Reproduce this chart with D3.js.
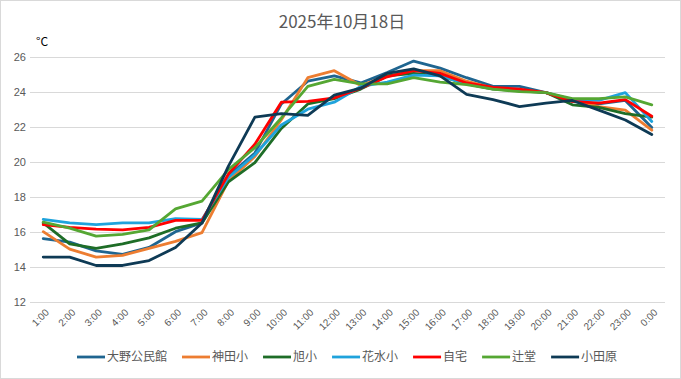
<!DOCTYPE html>
<html><head><meta charset="utf-8">
<script src="https://cdn.jsdelivr.net/npm/d3@7"></script>
<style>body{margin:0;background:#fff}svg{display:block}</style>
</head><body>
<script>
const hours = ["1:00","2:00","3:00","4:00","5:00","6:00","7:00","8:00","9:00","10:00","11:00","12:00","13:00","14:00","15:00","16:00","17:00","18:00","19:00","20:00","21:00","22:00","23:00","0:00"];
const yTicks = [12,14,16,18,20,22,24,26];
const seriesNames = ["大野公民館","神田小","旭小","花水小","自宅","辻堂","小田原"];
const seriesColors = ["#1f6590","#ed7d31","#1e6d27","#1fa3dc","#ff0000","#55a733","#0e3a55"];
const ono     = [15.6,15.4,14.9,14.7,15.1,16.0,16.5,19.2,20.5,23.3,24.6,24.9,24.5,25.1,25.75,25.35,24.8,24.3,24.3,23.95,23.45,23.3,23.5,21.95];
const kanda   = [16.0,15.0,14.55,14.65,15.05,15.45,15.95,18.9,20.3,22.4,24.8,25.2,24.35,24.9,25.2,25.2,24.6,24.2,24.1,23.95,23.5,23.15,22.95,21.8];
const asahi   = [16.5,15.3,15.05,15.3,15.65,16.2,16.5,18.85,19.95,21.9,23.3,23.6,24.15,24.9,25.05,24.9,24.45,24.15,24.05,23.95,23.25,23.1,22.75,22.55];
const hanamizu= [16.7,16.5,16.4,16.5,16.5,16.75,16.7,19.1,20.4,22.1,23.0,23.4,24.3,24.55,24.95,24.9,24.45,24.2,24.1,23.95,23.55,23.5,23.95,22.3];
const jitaku  = [16.4,16.25,16.15,16.1,16.25,16.65,16.65,19.3,21.0,23.4,23.45,23.65,24.2,24.85,25.2,25.05,24.5,24.25,24.15,23.95,23.45,23.35,23.55,22.6];
const tsujido = [16.55,16.2,15.75,15.85,16.1,17.3,17.75,19.55,20.8,22.5,24.3,24.7,24.45,24.45,24.8,24.55,24.4,24.15,24.0,23.95,23.6,23.6,23.7,23.25];
const odawara = [14.55,14.55,14.07,14.07,14.35,15.1,16.5,19.75,22.55,22.75,22.65,23.8,24.2,25.05,25.3,24.9,23.85,23.55,23.15,23.35,23.5,22.95,22.38,21.55];
const seriesValues = [ono,kanda,asahi,hanamizu,jitaku,tsujido,odawara];

(function(){
const W = 681, H = 379;
const svg = d3.select("body").append("svg").attr("width",W).attr("height",H);
const txt = "#595959";
const fontJP = "'Noto Sans CJK JP','Noto Sans',sans-serif";
const fontNum = "'Liberation Sans','DejaVu Sans',sans-serif";

svg.append("rect").attr("x",0.5).attr("y",0.5).attr("width",W-1).attr("height",H-1)
  .attr("fill","#fff").attr("stroke","#d9d9d9");

const pL = 30, pR = 665, pT = 56.7, pB = 301.7;
const x = d3.scaleBand().domain(hours).range([pL,pR]);
const y = d3.scaleLinear().domain([12,26]).range([pB,pT]);

svg.append("g").selectAll("line").data(yTicks).join("line")
  .attr("x1",pL).attr("x2",pR)
  .attr("y1",d=>Math.round(y(d))+0.5).attr("y2",d=>Math.round(y(d))+0.5)
  .attr("stroke","#d9d9d9").attr("stroke-width",1);

const yAxis = d3.axisLeft(y).tickValues(yTicks).tickSize(0).tickPadding(4);
const gy = svg.append("g").attr("transform",`translate(${pL},0)`).call(yAxis);
gy.select(".domain").remove();
gy.selectAll("text").attr("fill",txt).style("font-family",fontNum).style("font-size","11px");

const xAxis = d3.axisBottom(x).tickSize(0).tickPadding(0);
const gx = svg.append("g").attr("transform",`translate(0,${pB})`).call(xAxis);
gx.select(".domain").remove();
gx.selectAll("text")
  .attr("fill",txt).style("font-family",fontNum).style("font-size","10px")
  .attr("text-anchor","end").attr("y",0).attr("dy","0.35em")
  .attr("transform","translate(4,9) rotate(-45)");

const line = d3.line().x((d,i)=>x(hours[i])+x.bandwidth()/2).y(d=>y(d));
svg.append("g").selectAll("path").data(seriesValues).join("path")
  .attr("d",line).attr("fill","none")
  .attr("stroke",(d,i)=>seriesColors[i]).attr("stroke-width",2.8)
  .attr("stroke-linejoin","round").attr("stroke-linecap","round");

svg.append("text").attr("x",342).attr("y",28).attr("text-anchor","middle")
  .attr("fill",txt).style("font-family",fontJP).style("font-size","17px").text("2025年10月18日");
svg.append("text").attr("x",36).attr("y",46).attr("fill","#000")
  .style("font-family",fontJP).style("font-size","12px").text("°C");

const lg = svg.append("g");
let lx = 77; const ly = 357;
seriesNames.forEach((n,i)=>{
  lg.append("line").attr("x1",lx).attr("x2",lx+28).attr("y1",ly).attr("y2",ly)
    .attr("stroke",seriesColors[i]).attr("stroke-width",2.8);
  const t = lg.append("text").attr("x",lx+30).attr("y",ly).attr("dy","0.35em")
    .attr("fill",txt).style("font-family",fontJP).style("font-size","12px").text(n);
  lx += 30 + t.node().getComputedTextLength() + 15;
});
})();
</script>
</body></html>
